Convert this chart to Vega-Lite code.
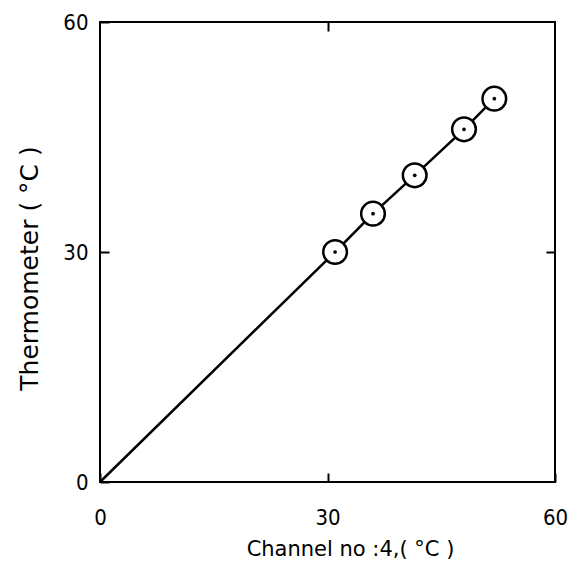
{
  "$schema": "https://vega.github.io/schema/vega-lite/v6.json",
  "autosize": "none",
  "width": 455,
  "height": 460,
  "padding": {"left": 100, "top": 22, "right": 21, "bottom": 86},
  "background": "white",
  "config": {
    "view": {"stroke": "black", "strokeWidth": 2},
    "axis": {
      "grid": false,
      "domain": false,
      "tickColor": "black",
      "tickWidth": 2,
      "labelColor": "black",
      "titleColor": "black",
      "labelFont": "DejaVu Sans Condensed, sans-serif",
      "titleFont": "DejaVu Sans, sans-serif",
      "labelFontSize": 22,
      "titleFontWeight": "normal"
    }
  },
  "datasets": {
    "pts": [
      {"channel": 31, "thermo": 30},
      {"channel": 36, "thermo": 35},
      {"channel": 41.5, "thermo": 40},
      {"channel": 48, "thermo": 46},
      {"channel": 52, "thermo": 50}
    ],
    "fit": [
      {"channel": 0, "thermo": 0},
      {"channel": 31, "thermo": 30},
      {"channel": 36, "thermo": 35},
      {"channel": 41.5, "thermo": 40},
      {"channel": 48, "thermo": 46},
      {"channel": 52, "thermo": 50}
    ]
  },
  "layer": [
    {
      "data": {"name": "fit"},
      "mark": {"type": "line", "color": "black", "strokeWidth": 2.5},
      "encoding": {
        "x": {
          "field": "channel", "type": "quantitative",
          "scale": {"domain": [0, 60], "nice": false},
          "axis": {"orient": "bottom", "values": [0, 30, 60], "tickSize": -9, "labelPadding": 34, "labelFlush": false, "title": "Channel no :4,( °C )", "titleFontSize": 21, "titlePadding": 10, "titleX": 250}
        },
        "y": {
          "field": "thermo", "type": "quantitative",
          "scale": {"domain": [0, 60], "nice": false},
          "axis": {"orient": "left", "values": [0, 30, 60], "tickSize": -9, "labelPadding": 21, "labelFlush": false, "title": "Thermometer ( °C )", "titleFontSize": 25, "titlePadding": 20, "titleY": 246}
        }
      }
    },
    {
      "data": {"name": "pts"},
      "mark": {"type": "point", "shape": "circle", "size": 560, "filled": true, "fill": "white", "stroke": "black", "strokeWidth": 2.5, "opacity": 1},
      "encoding": {
        "x": {"field": "channel", "type": "quantitative", "axis": {"orient": "top", "values": [30], "tickSize": -9, "labels": false, "title": null}},
        "y": {"field": "thermo", "type": "quantitative", "axis": {"orient": "right", "values": [30], "tickSize": -9, "labels": false, "title": null}}
      }
    },
    {
      "data": {"name": "pts"},
      "mark": {"type": "point", "shape": "circle", "size": 14, "filled": true, "color": "black", "opacity": 1},
      "encoding": {
        "x": {"field": "channel", "type": "quantitative", "axis": null},
        "y": {"field": "thermo", "type": "quantitative", "axis": null}
      }
    }
  ],
  "resolve": {"axis": {"x": "independent", "y": "independent"}}
}
